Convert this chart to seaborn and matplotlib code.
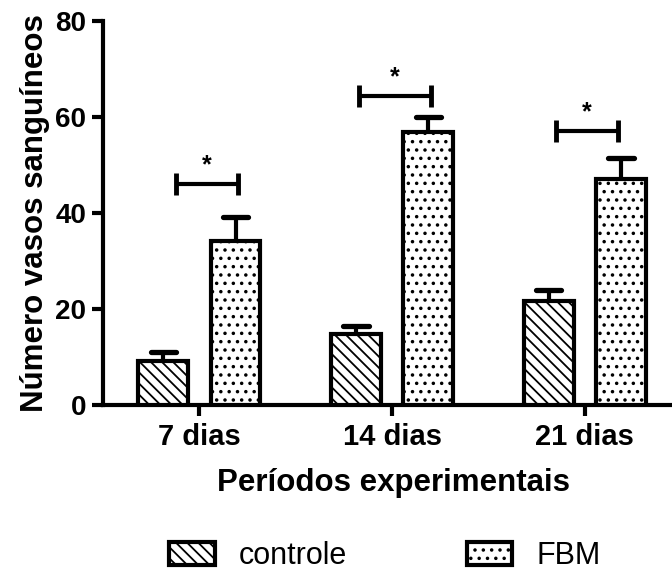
import numpy as np
import pandas as pd
import matplotlib
matplotlib.use("Agg")
import matplotlib.pyplot as plt
import seaborn as sns
from matplotlib.patches import Patch

# ---- data ----
periods = ["7 dias", "14 dias", "21 dias"]
groups = ["controle", "FBM"]
controle_mean = [9.2, 14.8, 21.7]
controle_err = [1.9, 1.7, 2.3]
fbm_mean = [34.2, 56.8, 47.0]
fbm_err = [5.0, 3.1, 4.4]
sig_y = [46.0, 64.3, 57.1]
sig_left = [-0.12, 0.83, 1.85]
sig_right = [0.20, 1.20, 2.17]
yticks = [0, 20, 40, 60, 80]

sns.set_theme(style="ticks")
plt.rcParams["font.family"] = ["Liberation Sans", "DejaVu Sans"]
plt.rcParams["hatch.linewidth"] = 1.3
plt.rcParams["hatch.color"] = "black"
for k in ["text.color", "axes.labelcolor", "xtick.color", "ytick.color"]:
    plt.rcParams[k] = "black"

df = pd.DataFrame({
    "periodo": periods * 2,
    "grupo": [groups[0]] * 3 + [groups[1]] * 3,
    "valor": controle_mean + fbm_mean,
})

fig = plt.figure(figsize=(6.72, 5.79), dpi=100)
ax = fig.add_axes([103 / 672, 1 - 405 / 579, 569 / 672, 384 / 579])

sns.barplot(data=df, x="periodo", y="valor", hue="grupo", order=periods,
            hue_order=groups, errorbar=None, width=0.75, gap=0.31,
            legend=False, ax=ax, zorder=3)

hatches = ["\\\\\\", ".."]
errs = [controle_err, fbm_err]
means = [controle_mean, fbm_mean]
for k, cont in enumerate(ax.containers):
    xs = []
    for p in cont:
        p.set_facecolor("white")
        p.set_edgecolor("black")
        p.set_linewidth(3)
        p.set_hatch(hatches[k])
        xs.append(p.get_x() + p.get_width() / 2)
    xs = np.array(xs)
    m = np.array(means[k])
    e = np.array(errs[k])
    ax.vlines(xs, m, m + e, color="black", lw=3, zorder=2)
    caps = ax.hlines(m + e, xs - 0.065, xs + 0.065, color="black", lw=3.8, zorder=2)
    caps.set_capstyle("round")

# significance brackets
for yl, xl, xr in zip(sig_y, sig_left, sig_right):
    ax.hlines(yl, xl, xr, color="black", lw=3, zorder=4)
    ax.vlines([xl, xr], yl - 2.3, yl + 2.3, color="black", lw=3.5, zorder=4)
    ax.text((xl + xr) / 2, yl + 1.4, "*", ha="center", va="bottom",
            fontsize=18, fontweight="bold", color="black")

ax.set_xlim(-0.5, 2.452)
ax.set_ylim(0, 80)
ax.set_yticks(yticks)
ax.set_yticklabels([str(v) for v in yticks], fontsize=20, fontweight="bold")
ax.set_xticks(range(len(periods)))
ax.set_xticklabels(periods, fontsize=21, fontweight="bold")
ax.tick_params(axis="both", length=8, width=3, color="black", direction="out")
ax.tick_params(axis="y", pad=4)
ax.tick_params(axis="x", pad=5)
ax.set_xlabel("Períodos experimentais", fontsize=22.5, fontweight="bold", labelpad=10)
ax.xaxis.set_label_coords(0.511, -0.165)
ax.set_ylabel("Número vasos sanguíneos", fontsize=22.5, fontweight="bold", labelpad=4)
for s in ["top", "right"]:
    ax.spines[s].set_visible(False)
for s in ["left", "bottom"]:
    ax.spines[s].set_linewidth(3)
    ax.spines[s].set_color("black")
ax.set_facecolor("white")
fig.patch.set_facecolor("white")

handles = [Patch(facecolor="white", edgecolor="black", hatch=hatches[0], lw=3, label=groups[0]),
           Patch(facecolor="white", edgecolor="black", hatch=hatches[1], lw=3, label=groups[1])]
fig.legend(handles=handles, loc="center", bbox_to_anchor=(385 / 672, 1 - 556 / 579),
           ncol=2, frameon=False, fontsize=22, handlelength=1.5, handleheight=0.75,
           handletextpad=0.8, columnspacing=3.9)

fig.savefig("out.png", dpi=100, facecolor="white")
